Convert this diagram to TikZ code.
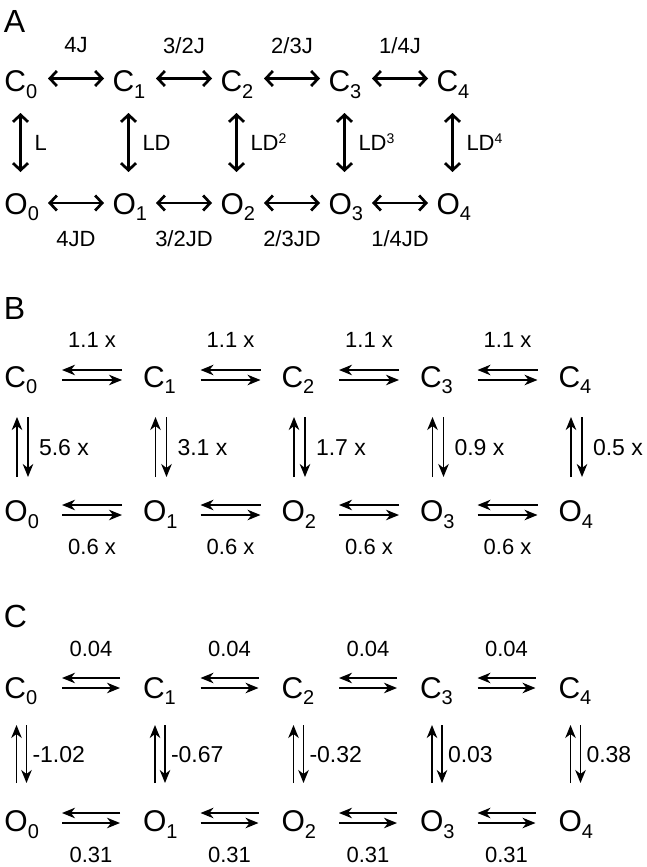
\documentclass[tikz,border=0pt]{standalone}
\usepackage{fontspec}
\setmainfont{Liberation Sans}
\usetikzlibrary{arrows.meta,calc}
\newcommand\sst[2]{#1\raisebox{-6.5pt}{\fontsize{20}{20}\selectfont #2}}
\newcommand\supx[1]{\raisebox{7pt}{\fontsize{14}{14}\selectfont #1}}
\tikzset{
  every node/.style={inner sep=0pt, outer sep=0pt},
  state/.style={anchor=base west, font=\fontsize{30}{30}\selectfont},
  panel/.style={anchor=base west, font=\fontsize{32}{32}\selectfont},
  lblA/.style={font=\fontsize{22}{22}\selectfont},
  lblB/.style={font=\fontsize{22}{22}\selectfont},
  lblV/.style={font=\fontsize{23}{23}\selectfont},
  lblCV/.style={font=\fontsize{23}{23}\selectfont},
  arrA/.style={line width=2.7pt, {Straight Barb[length=7pt,width=15pt]}-{Straight Barb[length=7pt,width=15pt]}},
  arrB/.style={line width=1.4pt, -{Stealth[length=13pt,width=10.5pt,inset=4pt]}},
}
\begin{document}
\begin{tikzpicture}[x=1pt,y=-1pt]
\useasboundingbox (0,0) rectangle (647,867);
% ---------------- Panel A
\node[panel] (pA) at (4,33) {A};
\foreach \i in {0,...,4} {
  \node[state] (AC\i) at ({4.5+108*\i},91.5) {\sst{C}{\i}};
  \node[state] (AO\i) at ({4.5+108*\i},214) {\sst{O}{\i}};
}
\newcommand\hA[4]{%
  \draw[arrA] ($(AC#1.base west)+(43.5,-13)$) -- ($(AC#2.base west)+(-8.5,-13)$)
     node[midway,lblA,yshift=33pt] {#3};
  \draw[arrA] ($(AO#1.base west)+(43.5,-11)$) -- ($(AO#2.base west)+(-8.5,-11)$)
     node[midway,lblA,yshift=-36pt] {#4};}
\hA{0}{1}{4J}{4JD}
\hA{1}{2}{3/2J}{3/2JD}
\hA{2}{3}{2/3J}{2/3JD}
\hA{3}{4}{1/4J}{1/4JD}
\newcommand\vA[2]{%
  \draw[arrA] ($(AC#1.base west)+(16,21.5)$) -- ($(AO#1.base west)+(16,-42)$)
     node[midway,lblA,anchor=base west,xshift=14pt,yshift=-8pt] {#2};}
\vA{0}{L}
\vA{1}{LD}
\vA{2}{LD\supx{2}}
\vA{3}{LD\supx{3}}
\vA{4}{LD\supx{4}}
% ---------------- Panel B
\node[panel] (pB) at (4,319) {B};
\foreach \i in {0,...,4} {
  \node[state] (BC\i) at ({4.5+138.5*\i},387) {\sst{C}{\i}};
  \node[state] (BO\i) at ({4.5+138.5*\i},521.5) {\sst{O}{\i}};
}
\foreach \i [evaluate=\i as \j using int(\i+1)] in {0,...,3} {
  \draw[arrB] ($(BC\j.base west)+(-21,-17)$) -- ($(BC\i.base west)+(57.5,-17)$)
     node[midway,lblB,yshift=30pt] {1.1 x};
  \draw[arrB] ($(BC\i.base west)+(57.5,-7)$) -- ($(BC\j.base west)+(-21,-7)$);
  \draw[arrB] ($(BO\j.base west)+(-21,-16.5)$) -- ($(BO\i.base west)+(57.5,-16.5)$);
  \draw[arrB] ($(BO\i.base west)+(57.5,-6.5)$) -- ($(BO\j.base west)+(-21,-6.5)$)
     node[midway,lblB,yshift=-32pt] {0.6 x};
}
\newcommand\vB[2]{%
  \draw[arrB] ($(BO#1.base west)+(12.5,-44.5)$) -- ($(BC#1.base west)+(12.5,30)$);
  \draw[arrB] ($(BC#1.base west)+(23.5,30)$) -- ($(BO#1.base west)+(23.5,-44.5)$)
     node[midway,lblV,anchor=base west,xshift=11pt,yshift=-8.2pt] {#2};}
\vB{0}{5.6 x}
\vB{1}{3.1 x}
\vB{2}{1.7 x}
\vB{3}{0.9 x}
\vB{4}{0.5 x}
% ---------------- Panel C
\node[panel] (pC) at (4,627) {C};
\foreach \i in {0,...,4} {
  \node[state] (CC\i) at ({4.5+138.5*\i},698) {\sst{C}{\i}};
  \node[state] (CO\i) at ({4.5+138.5*\i},831.5) {\sst{O}{\i}};
}
\foreach \i [evaluate=\i as \j using int(\i+1)] in {0,...,3} {
  \draw[arrB] ($(CC\j.base west)+(-23,-20)$) -- ($(CC\i.base west)+(57.5,-20)$)
     node[midway,lblB,yshift=29.5pt] {0.04};
  \draw[arrB] ($(CC\i.base west)+(57.5,-10)$) -- ($(CC\j.base west)+(-23,-10)$);
  \draw[arrB] ($(CO\j.base west)+(-23,-18.5)$) -- ($(CO\i.base west)+(57.5,-18.5)$);
  \draw[arrB] ($(CO\i.base west)+(57.5,-8.5)$) -- ($(CO\j.base west)+(-23,-8.5)$)
     node[midway,lblB,yshift=-31.5pt] {0.31};
}
\newcommand\vC[2]{%
  \draw[arrB] ($(CO#1.base west)+(12,-48.5)$) -- ($(CC#1.base west)+(12,27)$);
  \draw[arrB] ($(CC#1.base west)+(22,27)$) -- ($(CO#1.base west)+(22,-48.5)$)
     node[midway,lblCV,anchor=base west,xshift=6pt,yshift=-8.2pt] {#2};}
\vC{0}{-1.02}
\vC{1}{-0.67}
\vC{2}{-0.32}
\vC{3}{0.03}
\vC{4}{0.38}
\end{tikzpicture}
\end{document}
